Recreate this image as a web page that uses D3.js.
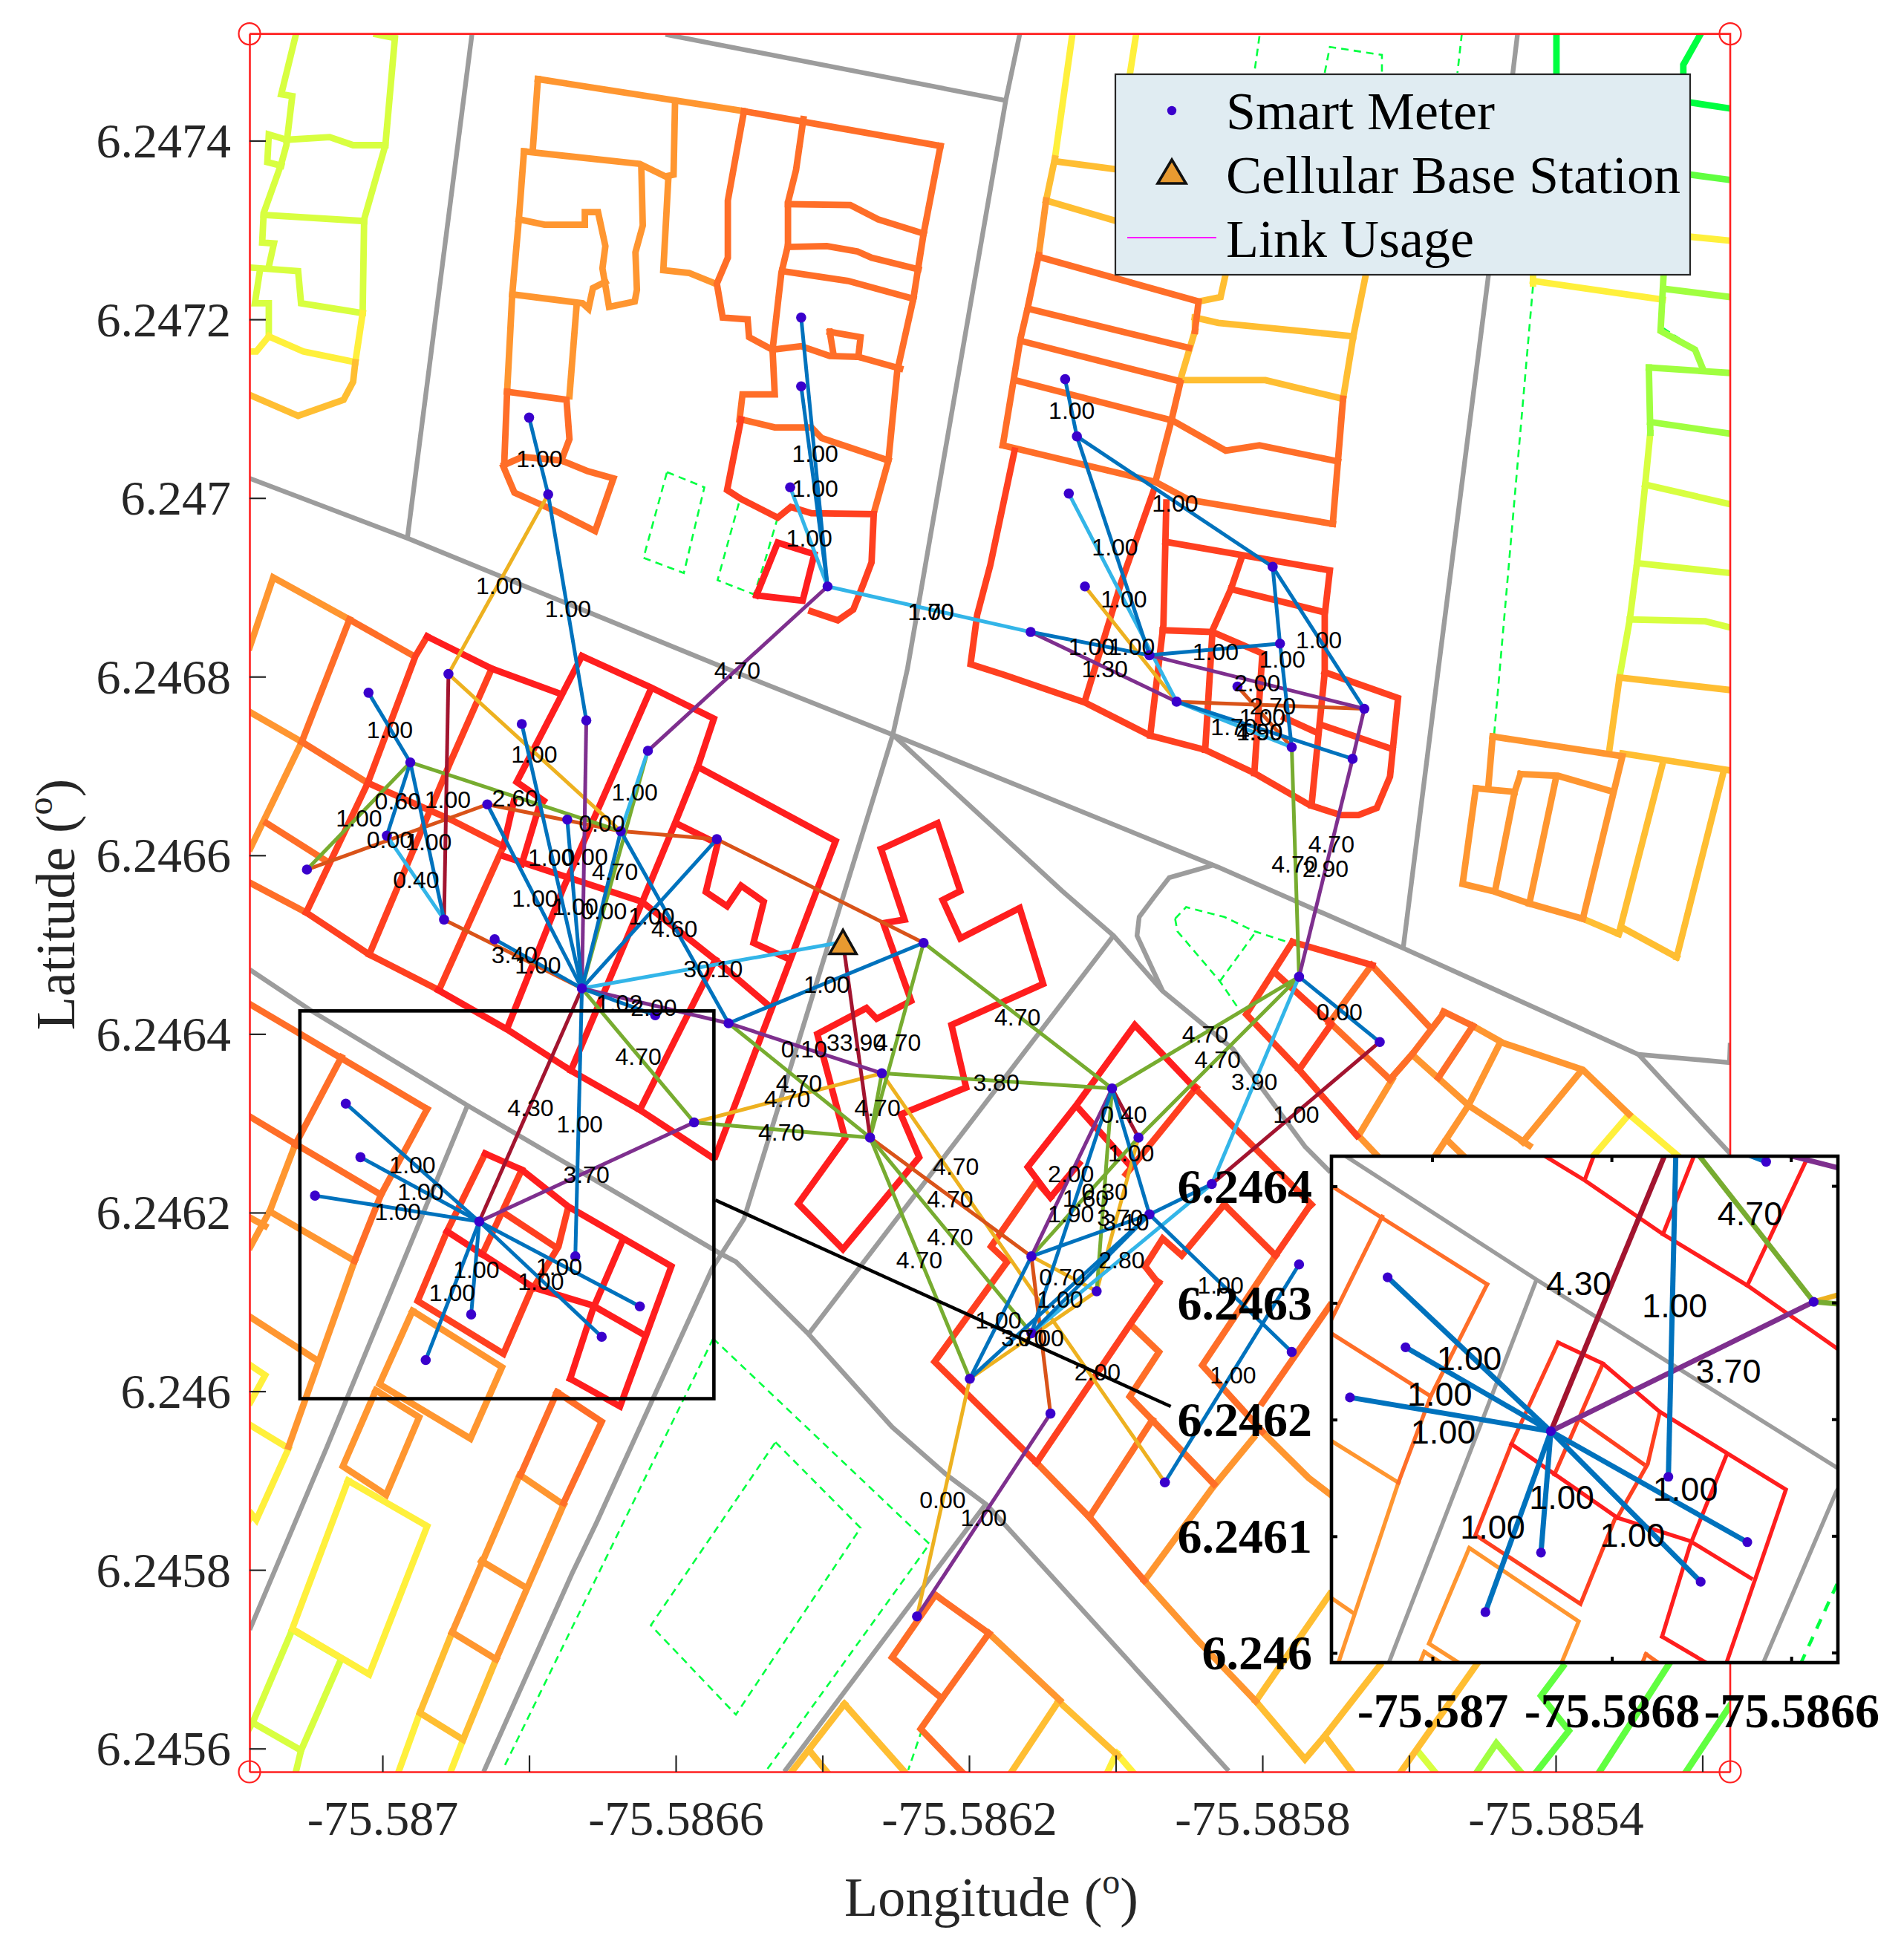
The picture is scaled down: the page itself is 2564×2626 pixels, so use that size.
<!DOCTYPE html>
<html>
<head>
<meta charset="utf-8">
<script src="https://cdn.jsdelivr.net/npm/d3@7"></script>
<style>
  body { margin: 0; background: #fff; }
  text { font-family: "Liberation Serif", serif; }
</style>
</head>
<body>
<div id="chart"></div>
<script>
// every map coordinate below is an offset from this origin, in millionths of a degree
var LON0 = -75.587, LAT0 = 6.246;

// building outlines, one array per colour class: lon,lat,lon,lat,...
var limeLines = [
  [-118,1519,-138,1452,-123,1450,-131,1395,-138,1374,-162,1319,-164,1286,-148,1285,-155,1259],
  [-8,1519,17,1515,4,1395,-25,1312,-27,1207],
  [-131,1401,-72,1404,-40,1395,4,1395],
  [-131,1401,-155,1407,-157,1376,-138,1372],
  [-162,1317,-25,1310],
  [-180,1258,-115,1254,-111,1218,-27,1207],
  [-167,1255,-174,1218,-155,1218,-155,1181],
  [-123,-267,-56,-299,-111,-402,-177,-371,-123,-267],
  [-111,-402,-118,-426], [-177,-371,-182,-378],
  [1411,-402,1438,-429],
  [1711,927,1838,916], [1701,864,1804,862,1838,855], [1722,1015,1838,993],
  [1729,1073,1722,1015,1711,928,1701,864,1687,799]
];
var yellowLines = [
  [-27,1207,-37,1152], [-155,1181,-172,1164,-180,1164], [-155,1181,-108,1164,-37,1152],
  [941,1520,917,1380], [1028,1520,1019,1473], [1765,1294,1838,1288],
  [1569,1243,1746,1222], [1569,1250,1569,1240],
  [1700,310,1766,264], [1700,310,1652,264],
  [-180,29,-160,18,-180,-12], [-180,-38,-128,-64,-172,-144,-178,-138,-182,-144],
  [-47,-100,61,-151,-18,-317,-123,-266,-47,-100],
  [51,-360,22,-426], [110,-390,93,-426],
  [1001,-405,989,-426], [1001,-405,1023,-426]
];
var goldLines = [
  [-37,1152,-40,1130,-53,1110,-115,1092,-180,1115],
  [917,1380,905,1333], [917,1377,1001,1368], [905,1333,1001,1310],
  [1113,1220,1143,1225,1150,1251],
  [1108,1202,1140,1196,1324,1181], [1342,1254,1324,1181,1310,1111],
  [1108,1187,1088,1132,1204,1132,1310,1111], [1108,1187,1108,1202],
  [1673,717,1687,799,1838,785], [1691,714,1838,695], [1745,700,1686,512], [1829,694,1765,486],
  [1637,529,1686,512], [1693,518,1765,486],
  [95,-270,51,-360,110,-390,155,-300],
  [630,-350,712,-426], [630,-350,558,-426], [582,-402,606,-426],
  [922,-347,1003,-408], [922,-347,858,-426],
  [1191,-347,1258,-412,1285,-386,1322,-426],
  [1191,-347,1292,-227], [1285,-386,1360,-307], [1388,-427,1492,-306]
];
var amberLines = [
  [212,1469,493,1433], [212,1469,205,1390],
  [193,1388,351,1374,386,1360,397,1362,399,1443],
  [193,1388,186,1312,177,1228,170,1119],
  [186,1312,221,1306,276,1306,276,1320,294,1320,304,1282,300,1257,309,1214,344,1220,347,1233,345,1275,355,1305,353,1371],
  [177,1228,273,1218,281,1212,287,1235,304,1242],
  [265,1218,255,1114],
  [390,1360,383,1255,418,1252,454,1240],
  [905,1333,895,1272],
  [-181,833,-149,911,-45,864], [-110,727,-180,608], [-180,760,-110,727],
  [-119,276,-153,203,-180,162], [-38,146,-128,-62],
  [-153,201,-38,146], [-180,194,-160,185], [-180,83,-88,34],
  [41,90,163,27,120,-53,-4,8,41,90],
  [-9,1,50,-29,5,-116,-54,-84,-9,1],
  [188,-94,247,-127], [247,-127,155,-300], [187,-94,95,-270],
  [135,-190,194,-219], [95,-270,155,-300],
  [827,-271,924,-346],
  [1188,-52,1132,-108,1039,-212], [1039,-212,1112,-279,1191,-347],
  [1199,-45,1263,-97,1295,-117],
  [1514,733,1691,711,1637,529], [1514,733,1508,676], [1491,675,1544,671],
  [1491,675,1473,568,1514,560,1564,546,1637,529],
  [1552,691,1544,671,1518,563], [1552,691,1603,689,1675,672], [1600,685,1564,546],
  [1487,409,1528,390,1637,360,1700,310],
  [1524,390,1481,320,1433,260], [1404,377,1481,320,1564,275],
  [1634,358,1555,279], [1451,282,1476,262],
  [1377,349,1331,286,1361,260], [1404,377,1374,349]
];
var tangerineLines = [
  [493,1433,761,1394],
  [493,1433,471,1333,471,1269,456,1240,464,1202,498,1200,500,1180,532,1166],
  [574,1424,564,1367,553,1331,553,1283,544,1252,532,1166,535,1116,491,1116,487,1088],
  [553,1329,638,1328,676,1312,738,1296],
  [553,1281,606,1282,648,1276,667,1269,731,1256],
  [545,1254,635,1243,724,1223],
  [532,1166,571,1170,610,1159,649,1158,706,1145],
  [610,1186,652,1180,649,1158], [610,1186,615,1161],
  [761,1394,738,1296,724,1223,702,1142,690,1042,670,983],
  [489,1088,535,1079,585,1079,599,1067,690,1042],
  [170,1119,251,1110,255,1066,244,1042], [170,1119,166,1037],
  [166,1037,191,1046,244,1042,280,1030,315,1022,290,963,237,985,180,1006,165,1035],
  [895,1272,880,1213,870,1178,846,1059],
  [895,1270,1113,1220,1108,1187],
  [880,1212,1100,1168], [870,1176,1086,1131], [862,1132,1076,1087], [846,1059,1054,1018],
  [1088,1129,1076,1087,1054,1018],
  [1077,1087,1150,1053,1196,1059,1303,1041],
  [1310,1111,1303,1041,1296,971], [1054,1018,1100,998,1296,971],
  [-45,864,43,823], [-45,864,-110,727], [-110,727,-20,681],
  [-158,636,-79,595], [-180,569,-104,536],
  [-180,433,61,316], [-56,374,-119,276], [61,316,-2,220,-38,146],
  [-180,307,-117,276,-2,220],
  [238,-1,299,-34,247,-125], [238,-1,188,-94],
  [1218,152,1118,29,1200,-45], [1292,96,1200,-13],
  [1021,74,1059,44,1019,-6,1134,-104], [1050,-32,964,-141,1039,-212],
  [892,-80,964,-141],
  [754,-228,827,-271], [754,-228,695,-298,763,-344,734,-378,790,-426], [827,-271,763,-344],
  [1293,412,1374,349], [1349,477,1291,412], [1349,477,1429,407],
  [1374,349,1404,377,1447,423], [1447,425,1487,409], [1487,409,1440,351]
];
var scarletLines = [
  [489,1088,470,1009,489,999,539,978,557,990,585,983,670,982,667,928,656,904,642,875,621,863,585,873],
  [862,1053,829,925,811,869,802,814,848,802,958,771,1047,734,1122,718,1189,692,1265,656,1307,645,1331,645,1356,653,1374,688,1385,776,1285,805],
  [1068,951,1292,919,1285,869,1285,805,1267,656],
  [1157,898,1285,872], [1284,745,1377,719], [1230,754,1275,737],
  [1069,995,1065,858,1047,734], [1064,852,1132,850,1200,826,1189,692],
  [1172,934,1157,898,1132,852,1122,718],
  [1052,1009,1008,907,958,773],
  [-104,536,-18,489,77,449], [-104,536,-20,681,45,823,61,845], [149,809,93,705,-18,489],
  [-20,681,93,640,165,610,77,449],
  [140,266,88,179,48,101,165,42,204,116], [190,248,136,153], [165,200,235,162],
  [253,205,240,162,206,116],
  [1110,340,1014,243], [1107,340,1267,209], [1148,209,1218,152], [1264,207,1218,152],
  [1059,122,1023,79,892,-80],
  [1040,140,1064,171,1090,152,1148,209], [1040,140,1058,121],
  [852,145,753,33,892,-80], [852,145,830,162,892,235,911,217],
  [1241,503,1350,477], [1241,503,1178,422,1250,360,1329,286], [1218,468,1293,412], [1293,410,1250,360]
];
var redLines = [
  [510,891,539,950,589,937,573,885,510,891],
  [61,845,149,809,242,781], [272,823,183,682,220,661],
  [179,660,165,610], [213,653,190,590],
  [272,823,366,788,452,753,430,699,400,638,355,549,257,359],
  [366,786,247,564,170,406],
  [430,699,618,616,454,263], [400,636,457,613,441,559,470,543,489,566,520,548,506,502,554,484],
  [76,449,170,405,257,359,351,315,451,261],
  [351,315,454,483], [165,599,354,548,454,483,525,433],
  [680,607,757,636,788,560,764,550,788,507,869,541,901,456,776,410,796,340,707,310,732,262,628,159,567,210,631,283,593,400,660,429,674,417,721,437,683,524,712,528,680,607],
  [1107,340,1026,410,947,321,880,251,911,217,950,255], [947,319,1017,255],
  [140,266,190,248,253,207,394,140,324,-17,256,14], [328,170,287,92,256,14],
  [88,179,206,116,287,96,355,64]
];
var chartreuseLines = [
  [1750,1234,1838,1225],
  [1747,1248,1743,1187,1790,1166,1800,1146],
  [1727,1146,1838,1140], [1727,1146,1729,1073], [1729,1085,1838,1072],
  [1492,-427,1519,-394,1553,-427]
];
var greenLines = [
  [1784,1362,1838,1356],
  [1573,-427,1618,-380,1580,-341,1610,-308],
  [1659,-427,1754,-306], [1777,-427,1840,-349]
];
var neonLines = [
  [1601,1520,1601,1476],
  [1798,1520,1774,1485,1774,1444,1838,1436]
];

// streets
var roadLines = [
  [122,1519,34,955],
  [-181,1022,34,955,457,813,696,735,1139,587,1392,496,1713,377,1837,368,1838,390],
  [386,1519,850,1445],
  [869,1519,850,1445,716,809,696,735,680,692,493,193,450,138,292,-147,258,-205,138,-426],
  [1548,1520,1509,1254,1440,809,1392,496],
  [696,735,927,560,997,510,1064,448,1160,383,1258,274,1293,245],
  [1713,377,1838,266],
  [-181,472,-97,426,116,320,459,155,482,145,581,64,695,-40,770,-94,824,-127,1154,-425],
  [581,64,997,510],
  [116,320,-76,-63,-181,-267],
  [824,-125,548,-426],
  [1064,448,1029,510,1032,531,1052,553,1073,575,1133,589]
];

// parks and green areas
var parkLines = [
  [1196,1517,1189,1476], [1285,1476,1292,1505,1363,1496,1363,1476], [1472,1520,1466,1476],
  [1569,1237,1516,735],
  [1747,1190,1790,1167,1800,1145,1729,1145,1729,1073,1708,922],
  [388,1029,439,1012,411,916,356,933,388,1029],
  [486,994,457,908,507,892], [539,978,521,928,507,892],
  [1081,529,1096,542,1148,531,1189,515,1234,503], [1081,529,1084,515,1142,459,1171,424],
  [1142,459,1189,512],
  [451,59,165,-422], [451,59,746,-171,524,-424], [693,-298,761,-344,737,-376,717,-424],
  [536,-57,652,-153,482,-362,366,-262,536,-57]
];

// smart meters: id, lon, lat
var meters = [
  ['A',571,1202],['B',571,1125],['C',200,1090],['D',226,1004],['E',556,1012],['F',607,901],
  ['G',931,1133],['H',947,1069],['I',936,1005],['J',958,901],['K',884,850],['L',1046,824],
  ['M',1083,772],['N',1214,923],['O',1224,837],['P',1166,789],['Q',1339,764],['R',1240,721],['S',1323,708],
  ['a',90,803],['b',-19,782],['c',38,704],['d',278,751],['e',190,747],['f',362,717],
  ['g',143,657],['h',252,640],['i',325,627],['j',456,618],['k',6,622],['l',-103,584],
  ['m',84,528],['n',153,506],['o',272,451],['p',372,421],['q',472,412],['r',738,502],
  ['s',681,356],['t',665,284],['u',425,301],['v',132,190],['w',263,151],
  ['x1',-50,322],['x2',-30,262],['x3',-92,219],['x4',121,86],['x5',59,35],['x6',351,95],['x7',299,61],
  ['y1',1250,464],['y2',1360,391],['y3',995,339],['y4',1031,284],['y5',1131,232],['y6',1046,198],
  ['y7',885,151],['y8',974,112],['y9',885,65],['y10',801,14],['y11',911,-25],['y12',1067,-102],
  ['y13',1250,142],['y14',1240,44],['y15',729,-252]
];
var baseStation = ['bs',628,503];

// links grouped by colour
var blueLinks = [
  ['C','D'],['A','F'],['B','F'],['D','d'],['H','G'],['H','N'],['H','L'],['N','O'],['N','Q'],['O','R'],
  ['K','L'],['L','O'],['M','S'],['b','c'],['c','k'],['c','m'],['g','o'],['e','o'],['h','o'],['i','o'],
  ['j','o'],['i','q'],['n','o'],['o','p'],['o','w'],['q','r'],
  ['v','x1'],['v','x2'],['v','x3'],['v','x4'],['v','x5'],['v','x6'],['v','x7'],
  ['y7','y10'],['y7','y6'],['y3','y9'],['y3','y6'],['y6','y9'],['y6','y10'],['y6','y14'],['y5','y6'],
  ['y1','y2'],['y12','y13']
];
var cyanLinks = [['E','F'],['F','K'],['I','M'],['M','R'],['k','m'],['f','i'],['o','bs'],['y1','y5'],['y5','y9']];
var purpleLinks = [['F','f'],['K','M'],['L','Q'],['Q','S'],['d','o'],['o','q'],['q','s'],['u','v'],['y7','y3'],['y11','y15'],['y1','S']];
var maroonLinks = [['a','m'],['o','v'],['t','bs'],['y3','y4'],['y2','y5']];
var greenLinks = [
  ['c','l'],['c','i'],['f','o'],['o','u'],['q','t'],['s','t'],['r','t'],['r','y3'],['s','y3'],['t','u'],
  ['t','y9'],['t','y10'],['y7','y4'],['y3','y8'],['y3','y1'],['y4','y1'],['y1','R']
];
var yellowLinks = [['D','a'],['a','i'],['J','M'],['s','u'],['s','y12'],['y7','y8'],['y8','y4'],['y8','y10'],['y10','y15']];
var orangeLinks = [['M','Q'],['P','R'],['l','g'],['g','i'],['i','j'],['j','r'],['m','o'],['t','y7'],['y7','y11']];

// usage labels on the main map: text, lon, lat
var usageLabels = [
  ['1.00',214,1044],['1.00',590,1050],['1.00',590,1011],['1.00',582,955],['1.00',159,902],['1.00',253,876],
  ['1.70',748,873],['1.00',748,873],['4.70',484,807],
  ['1.00',940,1098],['1.00',1081,994],['1.00',999,945],['1.00',1011,887],['1.00',967,834],['1.00',1022,834],
  ['1.30',985,809],['1.00',1136,828],['1.00',1277,841],['1.00',1227,820],['2.00',1193,793],['2.70',1214,767],
  ['1.00',1200,755],['1.70',1161,744],['1.90',1196,738],['4.50',1196,738],
  ['1.00',10,741],['0.60',21,661],['1.00',89,663],['1.00',-32,642],['0.00',10,618],['1.00',63,615],['0.40',46,573],
  ['1.00',207,713],['2.60',181,664],['1.00',344,671],['0.00',299,636],['1.00',230,598],['0.00',276,599],
  ['4.70',317,582],['1.00',208,552],['1.00',263,543],['0.00',302,538],['1.00',367,532],['4.60',398,518],
  ['3.40',180,489],['1.00',212,477],['30.10',451,473],['1.00',606,456],['1.02',323,435],['2.00',370,430],
  ['0.10',575,383],['33.90',646,391],['4.70',703,391],['4.70',349,375],['4.70',568,345],['4.70',552,328],
  ['4.70',675,318],['4.70',544,290],['4.30',202,318],['1.00',269,299],['3.70',278,243],
  ['1.00',41,254],['1.00',52,224],['1.00',21,201],['1.00',128,136],['1.00',95,111],['1.00',241,140],['1.00',216,123],
  ['4.70',866,419],['4.70',1122,400],['4.70',1139,372],['0.00',1305,425],['3.80',837,346],['3.90',1189,347],
  ['1.00',1246,310],['0.40',1011,310],['1.00',1021,267],['4.70',782,252],['4.70',774,215],['4.70',774,173],
  ['4.70',732,147],['2.00',939,244],['1.60',959,216],['0.30',985,224],['1.90',939,199],['3.70',1006,195],
  ['3.10',1014,190],['2.80',1008,147],['0.70',927,128],['1.00',924,103],['1.00',840,80],['0.00',898,60],
  ['3.70',875,60],['2.00',975,22],['1.00',1143,119],['1.00',1160,18],['0.00',764,-121],['1.00',820,-141],
  ['4.70',1294,613],['4.70',1244,590],['2.90',1286,585]
];

// usage labels as they sit in the zoomed panel
var insetLabels = [
  ['4.70',354,377],['4.30',163,317],['1.00',270,298],['3.70',330,242],['1.00',41,253],['1.00',8,222],
  ['1.00',12,190],['1.00',144,134],['1.00',67,108],['1.00',282,141],['1.00',223,101]
];

// zoom box and its leader line
var insetLon = [-112.6, 452], insetLat = [-8.3, 425.8];
var leaderLine = [454,214,1075,-17];

// tick values
var lonTicks = [-75.587,-75.5868,-75.5866,-75.5864,-75.5862,-75.586,-75.5858,-75.5856,-75.5854,-75.5852];
var latTicks = [6.2456,6.2458,6.246,6.2462,6.2464,6.2466,6.2468,6.247,6.2472,6.2474];
var insetLonTicks = [-75.587,-75.5868,-75.5866];
var insetLatTicks = [6.246,6.2461,6.2462,6.2463,6.2464];
var lonLabelled = [-75.587,-75.5866,-75.5862,-75.5858,-75.5854];

// styles
var buildingGroups = [
  [limeLines,'#D8FF40'],[yellowLines,'#FFF03C'],[goldLines,'#FFBE32'],[amberLines,'#FF9630'],
  [tangerineLines,'#FF6E28'],[scarletLines,'#FF4020'],[redLines,'#FF1E1E'],
  [chartreuseLines,'#A0FF40'],[greenLines,'#60FF40'],[neonLines,'#00FF40']
];
var linkGroups = [
  [yellowLinks,'#EDB120'],[orangeLinks,'#D95319'],[greenLinks,'#77AC30'],[cyanLinks,'#33B5E8'],
  [maroonLinks,'#A2142F'],[purpleLinks,'#7E2F8E'],[blueLinks,'#0072BD']
];

var svg = d3.select('#chart').append('svg')
  .attr('width', 2564)
  .attr('height', 2626)
  .style('display', 'block');

var lonAt = function(d) { return LON0 + d * 1e-6; };
var latAt = function(d) { return LAT0 + d * 1e-6; };

var x = d3.scaleLinear().domain([lonAt(-181.3), lonAt(1838)]).range([336, 2330]);
var y = d3.scaleLinear().domain([latAt(-426), latAt(1519.6)]).range([2386, 45.6]);
var xi = d3.scaleLinear().domain(insetLon.map(lonAt)).range([1793, 2475]);
var yi = d3.scaleLinear().domain(insetLat.map(latAt)).range([2239, 1557]);

var nodeById = {};
meters.concat([baseStation]).forEach(function(m) { nodeById[m[0]] = m; });

// flat lon,lat list -> pairs
function pairs(flat) {
  var out = [];
  for (var i = 0; i < flat.length; i += 2) out.push([flat[i], flat[i + 1]]);
  return out;
}

// draws streets, buildings, links, meters and labels with the given scales
function drawMap(g, sx, sy, labels, st) {
  var line = d3.line().x(function(d) { return sx(lonAt(d[0])); }).y(function(d) { return sy(latAt(d[1])); });

  g.append('g').selectAll('path').data(parkLines).enter().append('path')
    .attr('d', function(d) { return line(pairs(d)); })
    .attr('fill', 'none').attr('stroke', '#00FF40').attr('stroke-width', st.park)
    .attr('stroke-dasharray', st.dash);

  g.append('g').selectAll('path').data(roadLines).enter().append('path')
    .attr('d', function(d) { return line(pairs(d)); })
    .attr('fill', 'none').attr('stroke', '#9C9C9C').attr('stroke-width', st.road);

  buildingGroups.forEach(function(b) {
    g.append('g').selectAll('path').data(b[0]).enter().append('path')
      .attr('d', function(d) { return line(pairs(d)); })
      .attr('fill', 'none').attr('stroke', b[1]).attr('stroke-width', st.building)
      .attr('stroke-linejoin', 'miter').attr('stroke-linecap', 'square');
  });

  linkGroups.forEach(function(l) {
    g.append('g').selectAll('line').data(l[0]).enter().append('line')
      .attr('x1', function(d) { return sx(lonAt(nodeById[d[0]][1])); })
      .attr('y1', function(d) { return sy(latAt(nodeById[d[0]][2])); })
      .attr('x2', function(d) { return sx(lonAt(nodeById[d[1]][1])); })
      .attr('y2', function(d) { return sy(latAt(nodeById[d[1]][2])); })
      .attr('stroke', l[1]).attr('stroke-width', st.link);
  });

  g.append('g').selectAll('circle').data(meters).enter().append('circle')
    .attr('cx', function(d) { return sx(lonAt(d[1])); })
    .attr('cy', function(d) { return sy(latAt(d[2])); })
    .attr('r', st.dot)
    .attr('fill', '#3A00CC');

  g.append('g').selectAll('text').data(labels).enter().append('text')
    .attr('x', function(d) { return sx(lonAt(d[1])); })
    .attr('y', function(d) { return sy(latAt(d[2])); })
    .attr('dy', '0.36em')
    .attr('text-anchor', 'middle')
    .style('font-family', '"Liberation Sans", sans-serif')
    .style('font-size', st.label + 'px')
    .text(function(d) { return d[0]; });
}

var defs = svg.append('defs');
defs.append('clipPath').attr('id', 'plotClip').append('rect')
  .attr('x', 336).attr('y', 45.6).attr('width', 1994).attr('height', 2340.4);
defs.append('clipPath').attr('id', 'insetClip').append('rect')
  .attr('x', 1793).attr('y', 1557).attr('width', 682).attr('height', 682);

// main map
var main = svg.append('g').attr('clip-path', 'url(#plotClip)');
drawMap(main, x, y, usageLabels, { park: 2.6, dash: '10,7', road: 6.4, building: 8.8, link: 5, dot: 6.8, label: 32 });

// base station marker
function triangle(g, cx, cy, w, h) {
  g.append('path')
    .attr('d', 'M' + cx + ',' + (cy - h / 2) + 'L' + (cx + w / 2) + ',' + (cy + h / 2) + 'L' + (cx - w / 2) + ',' + (cy + h / 2) + 'Z')
    .attr('fill', '#E89A30').attr('stroke', '#111').attr('stroke-width', 3.6);
}
triangle(svg, x(lonAt(baseStation[1])), y(latAt(baseStation[2])), 36, 32);

// main axes
var xAxis = d3.axisBottom(x).tickValues(lonTicks).tickSize(0).tickPadding(0)
  .tickFormat(function(d) { return lonLabelled.indexOf(d) >= 0 ? String(+d.toFixed(4)) : ''; });
var yAxis = d3.axisLeft(y).tickValues(latTicks).tickSize(0).tickPadding(0)
  .tickFormat(function(d) { return String(+d.toFixed(4)); });

var gx = svg.append('g').attr('transform', 'translate(0,2386)').call(xAxis);
var gy = svg.append('g').attr('transform', 'translate(336,0)').call(yAxis);
gx.select('.domain').attr('stroke', '#FF2020').attr('stroke-width', 2.6);
gy.select('.domain').attr('stroke', '#FF2020').attr('stroke-width', 2.6);
gx.selectAll('.tick line').attr('y2', -22).attr('stroke', '#262626').attr('stroke-width', 2.2);
gy.selectAll('.tick line').attr('x2', 22).attr('stroke', '#262626').attr('stroke-width', 2.2);
gx.selectAll('.tick text').attr('y', 85).attr('dy', 0)
  .style('font-family', '"Liberation Serif", serif').style('font-size', '66px').attr('fill', '#262626');
gy.selectAll('.tick text').attr('x', -25).attr('dy', 0).attr('y', 22)
  .style('font-family', '"Liberation Serif", serif').style('font-size', '66px').attr('fill', '#262626');

// red frame top/right and the four corner markers
svg.append('path')
  .attr('d', 'M336,45.6H2330V2386')
  .attr('fill', 'none').attr('stroke', '#FF2020').attr('stroke-width', 2.6);
[[336, 45.6], [2330, 45.6], [336, 2386], [2330, 2386]].forEach(function(c) {
  svg.append('circle').attr('cx', c[0]).attr('cy', c[1]).attr('r', 14.5)
    .attr('fill', 'none').attr('stroke', '#FF2020').attr('stroke-width', 2.2);
});

// axis titles
var xTitle = svg.append('text').attr('x', 1335).attr('y', 2580).attr('text-anchor', 'middle')
  .style('font-size', '74px').attr('fill', '#262626').text('Longitude (');
xTitle.append('tspan').attr('dy', -30).style('font-size', '48px').text('o');
xTitle.append('tspan').attr('dy', 30).text(')');
var yTitle = svg.append('text').attr('text-anchor', 'middle')
  .attr('transform', 'translate(100,1218) rotate(-90)')
  .style('font-size', '74px').attr('fill', '#262626').text('Latitude (');
yTitle.append('tspan').attr('dy', -30).style('font-size', '48px').text('o');
yTitle.append('tspan').attr('dy', 30).text(')');

// zoom box on the main map and leader line
svg.append('rect')
  .attr('x', x(lonAt(insetLon[0]))).attr('y', y(latAt(insetLat[1])))
  .attr('width', x(lonAt(insetLon[1])) - x(lonAt(insetLon[0])))
  .attr('height', y(latAt(insetLat[0])) - y(latAt(insetLat[1])))
  .attr('fill', 'none').attr('stroke', '#000').attr('stroke-width', 4.6);
svg.append('line')
  .attr('x1', x(lonAt(leaderLine[0]))).attr('y1', y(latAt(leaderLine[1])))
  .attr('x2', x(lonAt(leaderLine[2]))).attr('y2', y(latAt(leaderLine[3])))
  .attr('stroke', '#000').attr('stroke-width', 4.6);

// inset
svg.append('rect').attr('x', 1793).attr('y', 1557).attr('width', 682).attr('height', 682).attr('fill', '#fff');
var inset = svg.append('g').attr('clip-path', 'url(#insetClip)');
drawMap(inset, xi, yi, insetLabels, { park: 4.5, dash: '14,12', road: 5.5, building: 5.4, link: 7, dot: 6.6, label: 45 });
svg.append('rect').attr('x', 1793).attr('y', 1557).attr('width', 682).attr('height', 682)
  .attr('fill', 'none').attr('stroke', '#000').attr('stroke-width', 4.6);

var ixAxis = d3.axisBottom(xi).tickValues(insetLonTicks).tickSize(0)
  .tickFormat(function(d) { return String(+d.toFixed(4)); });
var iyAxis = d3.axisLeft(yi).tickValues(insetLatTicks).tickSize(0)
  .tickFormat(function(d) { return String(+d.toFixed(4)); });
var igx = svg.append('g').attr('transform', 'translate(0,2239)').call(ixAxis);
var igy = svg.append('g').attr('transform', 'translate(1793,0)').call(iyAxis);
igx.select('.domain').remove();
igy.select('.domain').remove();
igx.selectAll('.tick line').attr('y2', -8).attr('stroke', '#000').attr('stroke-width', 4);
igy.selectAll('.tick line').attr('x2', 8).attr('stroke', '#000').attr('stroke-width', 4);
insetLonTicks.forEach(function(t) {
  svg.append('line').attr('x1', xi(t)).attr('x2', xi(t)).attr('y1', 1557).attr('y2', 1565).attr('stroke', '#000').attr('stroke-width', 4);
});
insetLatTicks.forEach(function(t) {
  svg.append('line').attr('y1', yi(t)).attr('y2', yi(t)).attr('x1', 2475).attr('x2', 2467).attr('stroke', '#000').attr('stroke-width', 4);
});
igx.selectAll('.tick text').attr('y', 87).attr('dy', 0)
  .style('font-family', '"Liberation Serif", serif').style('font-size', '66px').style('font-weight', 'bold').attr('fill', '#000');
igy.selectAll('.tick text').attr('x', -26).attr('y', 22).attr('dy', 0)
  .style('font-family', '"Liberation Serif", serif').style('font-size', '66px').style('font-weight', 'bold').attr('fill', '#000');

// legend
var legend = svg.append('g');
legend.append('rect').attr('x', 1502).attr('y', 100).attr('width', 774).attr('height', 270)
  .attr('fill', '#E0ECF2').attr('stroke', '#262626').attr('stroke-width', 2.2);
legend.append('circle').attr('cx', 1578).attr('cy', 149).attr('r', 6.2).attr('fill', '#3A00CC');
triangle(legend, 1578, 231, 38, 32);
legend.append('line').attr('x1', 1518).attr('x2', 1638).attr('y1', 320).attr('y2', 320)
  .attr('stroke', '#FF00FF').attr('stroke-width', 2);
[['Smart Meter', 174], ['Cellular Base Station', 260], ['Link Usage', 346]].forEach(function(e) {
  legend.append('text').attr('x', 1651).attr('y', e[1])
    .style('font-size', '72px').attr('fill', '#000').text(e[0]);
});
</script>
</body>
</html>
